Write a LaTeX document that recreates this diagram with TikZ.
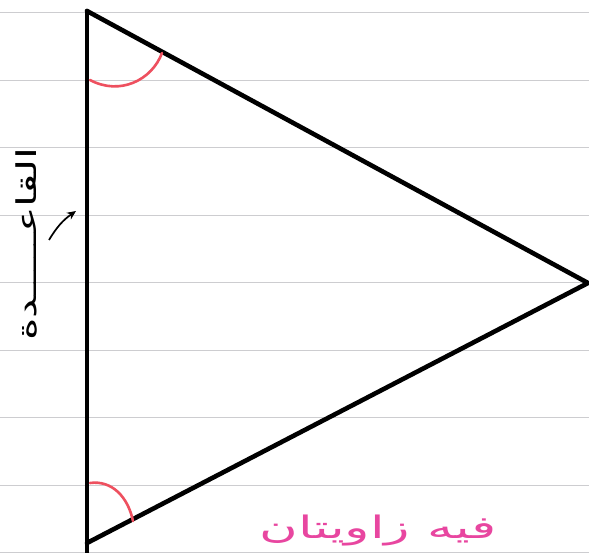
\documentclass[tikz,border=0pt]{standalone}
\usepackage{fontspec}
\usetikzlibrary{arrows.meta}
\TeXXeTstate=1
\newfontfamily\arabicfont[Script=Arabic]{DejaVu Sans}
\definecolor{paperline}{RGB}{205,205,208}
\definecolor{arcpink}{RGB}{238,80,95}
\definecolor{inkpink}{RGB}{232,70,160}
\tikzset{
  ruled/.style={paperline, line width=0.9pt},
  side/.style={black, line width=4.6pt, line join=round, line cap=round},
  anglearc/.style={arcpink, line width=2.6pt, line cap=round},
  label/.style={inner sep=0pt, font=\arabicfont}
}
\begin{document}
\begin{tikzpicture}[x=1pt,y=-1pt]
\useasboundingbox (0,0) rectangle (589,553);
\clip (0,0) rectangle (589,553);
\fill[white] (0,0) rectangle (589,553);
% ruled paper
\foreach \yy in {12,80,147,215,282,350,417,485,552}
  \draw[ruled] (0,\yy) -- (589,\yy);
% triangle
\coordinate (A) at (87,11);
\coordinate (B) at (87,543);
\coordinate (C) at (588,283);
\coordinate (Bx) at (87,553);
\draw[side] (A) -- (C) -- (B);
\draw[side] (A) -- (Bx);
% angle marks
\coordinate (a1) at (90,80);
\coordinate (a2) at (162,53);
\draw[anglearc] (a1) .. controls (120,96) and (152,80) .. (a2);
\coordinate (b1) at (90,483);
\coordinate (b2) at (133,521);
\draw[anglearc] (b1) .. controls (112,480) and (128,497) .. (b2);
% label for base
\node[label, rotate=90, font=\arabicfont\fontsize{26}{30}\selectfont] (base) at (27,244) {\scalebox{1.65}[1.05]{\beginR القاعـــــدة\endR}};
\coordinate (arrS) at (49,240);
\coordinate (arrE) at (76,211);
\draw[black, line width=1.7pt, -{Stealth[length=9pt,width=8pt]}] (arrS) to[bend left=12] (arrE);
% pink caption
\node[label, text=inkpink, font=\arabicfont\fontsize{31}{35}\selectfont, anchor=base] (cap) at (378,538) {\scalebox{1.7}[1]{\beginR فيه زاويتان\endR}};
\end{tikzpicture}
\end{document}
